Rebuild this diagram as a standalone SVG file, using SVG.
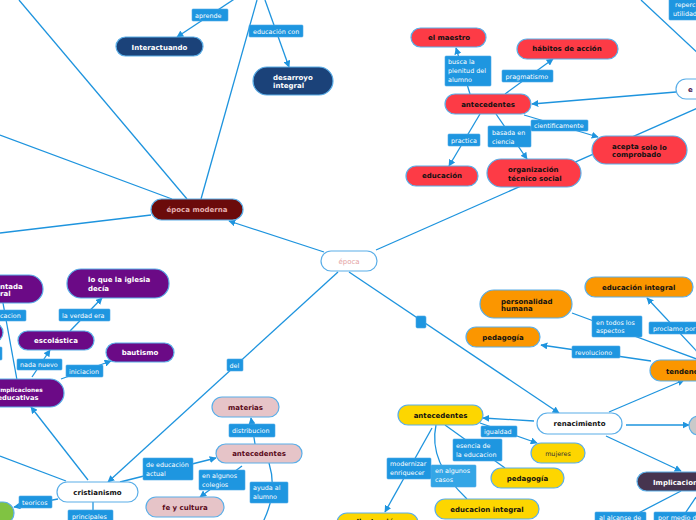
<svg xmlns="http://www.w3.org/2000/svg" width="696" height="520" viewBox="0 0 696 520">
<defs>
<marker id="ah" viewBox="0 0 10 10" refX="9" refY="5" markerWidth="7" markerHeight="7" markerUnits="userSpaceOnUse" orient="auto"><path d="M0,0 L10,5 L0,10 z" fill="#1e94de"/></marker>
<style>
.c{fill:none;stroke:#1e94de;stroke-width:1.3}
.a{marker-end:url(#ah)}
.lb{fill:#1e96e0;stroke:#4aa8e8;stroke-width:0.6}
.lt{font-family:"DejaVu Sans",Verdana,sans-serif;font-size:6.4px;fill:#ffffff}
.n{stroke:#5aaee8;stroke-width:1.2}
.t{font-family:"DejaVu Sans",Verdana,sans-serif;font-size:7px;font-weight:bold;text-anchor:middle}
.ts{font-family:"DejaVu Sans",Verdana,sans-serif;font-size:7px;font-weight:bold}
.blue{fill:#1b4279}.red{fill:#fd3b46}.dred{fill:#6b0b0b}.org{fill:#fb9600}.yel{fill:#fdd600}.pur{fill:#6b0a86}.pink{fill:#e6c4c8}.wh{fill:#ffffff}
.w{fill:#ffffff}.k{fill:#111111}.m{fill:#5a0a1a}
</style>
</defs>
<rect width="696" height="520" fill="#ffffff"/>
<g id="connectors">
<line class="c" x1="19" y1="0" x2="187" y2="199"/>
<line class="c" x1="0" y1="135" x2="172" y2="199"/>
<line class="c" x1="257" y1="0" x2="201" y2="199"/>
<line class="c a" x1="245" y1="-8" x2="177" y2="37"/>
<line class="c a" x1="265" y1="0" x2="289" y2="67"/>
<line class="c" x1="151" y1="215" x2="0" y2="233"/>
<line class="c a" x1="324" y1="252" x2="229" y2="221"/>
<line class="c" x1="376" y1="250" x2="700" y2="107"/>
<line class="c a" x1="338" y1="272" x2="108" y2="482"/>
<line class="c a" x1="349" y1="272" x2="559" y2="413"/>
<line class="c a" x1="470" y1="94" x2="456" y2="48"/>
<line class="c a" x1="505" y1="94" x2="553" y2="59"/>
<line class="c a" x1="480" y1="114" x2="449" y2="166"/>
<line class="c a" x1="496" y1="114" x2="527" y2="159"/>
<line class="c a" x1="524" y1="115" x2="598" y2="137"/>
<line class="c a" x1="676" y1="92" x2="532" y2="104"/>
<line class="c" x1="641" y1="0" x2="700" y2="55"/>
<line class="c a" x1="705" y1="360" x2="647" y2="298"/>
<line class="c" x1="705" y1="362" x2="572" y2="313"/>
<line class="c a" x1="651" y1="361" x2="541" y2="345"/>
<line class="c a" x1="609" y1="412" x2="684" y2="380"/>
<line class="c a" x1="626" y1="425" x2="689" y2="425"/>
<line class="c a" x1="606" y1="436" x2="681" y2="471"/>
<line class="c a" x1="534" y1="421" x2="483" y2="418"/>
<line class="c" x1="681" y1="491" x2="625" y2="520"/>
<line class="c" x1="696" y1="497" x2="684" y2="515"/>
<line class="c a" x1="480" y1="423" x2="537" y2="443"/>
<line class="c" x1="445" y1="425" x2="505" y2="468"/>
<path class="c" d="M436,425 Q428,462 467,499"/>
<line class="c a" x1="432" y1="428" x2="385" y2="512"/>
<line class="c a" x1="120" y1="482" x2="216" y2="458"/>
<line class="c a" x1="255" y1="444" x2="251" y2="418"/>
<line class="c a" x1="242" y1="466" x2="200" y2="497"/>
<path class="c" d="M269,463 Q278,492 263,522"/>
<line class="c a" x1="70" y1="331" x2="102" y2="298"/>
<line class="c a" x1="32" y1="377" x2="50" y2="350"/>
<line class="c a" x1="61" y1="379" x2="111" y2="361"/>
<line class="c" x1="3" y1="303" x2="17" y2="380"/>
<line class="c a" x1="88" y1="480" x2="31" y2="407"/>
<line class="c" x1="0" y1="456" x2="66" y2="481"/>
<line class="c a" x1="58" y1="499" x2="14" y2="507"/>
<line class="c" x1="93" y1="502" x2="93" y2="512"/>
</g>
<g id="labels">
<rect class="lb" x="192" y="9" width="36" height="12" rx="1"/><text class="lt" x="195" y="17.5">aprende</text>
<rect class="lb" x="249" y="25" width="54" height="12" rx="1"/><text class="lt" x="253" y="33.5">educación con</text>
<rect class="lb" x="445" y="56" width="46" height="30" rx="1"/><text class="lt" x="448" y="63.5">busca la</text><text class="lt" x="448" y="72.5">plenitud del</text><text class="lt" x="448" y="81.5">alumno</text>
<rect class="lb" x="502" y="70" width="51" height="12" rx="1"/><text class="lt" x="505.5" y="78.5">pragmatismo</text>
<rect class="lb" x="448" y="134" width="32" height="12" rx="1"/><text class="lt" x="451" y="142.5">practica</text>
<rect class="lb" x="488" y="126" width="43" height="21" rx="1"/><text class="lt" x="492" y="134.5">basada en</text><text class="lt" x="492" y="144">ciencia</text>
<rect class="lb" x="531" y="120" width="57" height="11" rx="1"/><text class="lt" x="534" y="128">cientificamente</text>
<rect class="lb" x="669" y="-2" width="35" height="22" rx="1"/><text class="lt" x="675" y="7">reperc</text><text class="lt" x="673" y="16">utilidad</text>
<rect class="lb" x="592" y="316" width="50" height="21" rx="1"/><text class="lt" x="596" y="324.5">en todos los</text><text class="lt" x="596" y="332.5">aspectos</text>
<rect class="lb" x="649" y="322" width="55" height="12" rx="1"/><text class="lt" x="653" y="330.5">proclamo por</text>
<rect class="lb" x="572" y="346" width="48" height="12" rx="1"/><text class="lt" x="575" y="354.5">revoluciono</text>
<rect class="lb" x="481" y="426" width="36" height="11" rx="1"/><text class="lt" x="484" y="434">igualdad</text>
<rect class="lb" x="453" y="439" width="49" height="22" rx="1"/><text class="lt" x="456" y="447.8">esencia de</text><text class="lt" x="456" y="456.5">la educacion</text>
<rect class="lb" x="431" y="465" width="45" height="22" rx="1" style="fill:#34a6e6"/><text class="lt" x="435" y="473">en algunos</text><text class="lt" x="435" y="481.8">casos</text>
<rect class="lb" x="387" y="458" width="44" height="21" rx="1"/><text class="lt" x="390" y="465.8">modernizar</text><text class="lt" x="390" y="474.8">enriquecer</text>
<rect class="lb" x="595" y="512" width="51" height="12" rx="1"/><text class="lt" x="599" y="520">al alcanse de</text>
<rect class="lb" x="654" y="512" width="50" height="12" rx="1"/><text class="lt" x="658" y="520">por medio de</text>
<rect class="lb" x="143" y="458" width="50" height="22" rx="1"/><text class="lt" x="146" y="466.5">de educación</text><text class="lt" x="146" y="475.8">actual</text>
<rect class="lb" x="229" y="424" width="46" height="13" rx="1"/><text class="lt" x="232" y="433">distribucion</text>
<rect class="lb" x="199" y="470" width="46" height="20" rx="1"/><text class="lt" x="202" y="477.8">en algunos</text><text class="lt" x="202" y="486.8">colegios</text>
<rect class="lb" x="250" y="482" width="38" height="21" rx="1"/><text class="lt" x="253" y="490">ayuda al</text><text class="lt" x="253" y="499">alumno</text>
<rect class="lb" x="227" y="359" width="16" height="12" rx="1"/><text class="lt" x="229.5" y="367.5">del</text>
<rect class="lb" x="59" y="309" width="51" height="12" rx="1"/><text class="lt" x="62" y="317.5">la verdad era</text>
<rect class="lb" x="-4" y="310" width="30" height="11" rx="1"/><text class="lt" x="0" y="318">cacion</text>
<rect class="lb" x="17" y="359" width="45" height="11" rx="1"/><text class="lt" x="20" y="367">nada nuevo</text>
<rect class="lb" x="66" y="365" width="37" height="12" rx="1"/><text class="lt" x="69" y="373.5">iniciacion</text>
<rect class="lb" x="19" y="496" width="33" height="12" rx="1"/><text class="lt" x="22" y="504.5">teoricos</text>
<rect class="lb" x="68" y="510" width="45" height="14" rx="1"/><text class="lt" x="72" y="518.5">principales</text>
<rect class="lb" x="416" y="316" width="10" height="12" rx="1.5"/>
<rect class="lb" x="-5" y="347" width="7" height="13" rx="1"/>
</g>
<g id="n-interactuando"><rect class="n blue" x="116" y="37" width="87" height="19" rx="9.5"/><text class="t w" x="159.5" y="49.5">Interactuando</text></g>
<g id="n-desarroyo"><rect class="n blue" x="253" y="67" width="80" height="28" rx="14"/><text class="ts w" x="273" y="80">desarroyo</text><text class="ts w" x="273" y="88">integral</text></g>
<g id="n-maestro"><rect class="n red" x="411" y="28" width="75" height="19" rx="9.5"/><text class="t k" x="449" y="40">el maestro</text></g>
<g id="n-habitos"><rect class="n red" x="517" y="39" width="101" height="20" rx="10"/><text class="t k" x="567" y="51">hábitos de acción</text></g>
<g id="n-antecedentes-red"><rect class="n red" x="445" y="94" width="86" height="20" rx="10"/><text class="t k" x="488" y="106.8">antecedentes</text></g>
<g id="n-educacion-red"><rect class="n red" x="406" y="166" width="72" height="20" rx="10"/><text class="t k" x="442" y="177.8">educación</text></g>
<g id="n-organizacion"><rect class="n red" x="487" y="159" width="94" height="28" rx="14"/><text class="ts k" x="508" y="171.5">organización</text><text class="ts k" x="508" y="180.5">técnico social</text></g>
<g id="n-acepta"><rect class="n red" x="592" y="136" width="95" height="28" rx="14"/><text class="ts k" x="612" y="148.5">acepta</text><text class="ts k" x="641" y="149.5">solo lo</text><text class="ts k" x="612" y="157">comprobado</text></g>
<g id="n-e"><rect class="n wh" x="676" y="79" width="40" height="20" rx="10"/><text class="ts" x="688" y="91.5" fill="#4b1a55">e</text></g>
<g id="n-epoca-moderna"><rect class="n dred" x="151" y="199" width="92" height="21" rx="10.5"/><text class="t" x="197" y="212" fill="#e6b0b0">época moderna</text></g>
<g id="n-epoca"><rect class="n wh" x="321" y="251" width="56" height="20" rx="10"/><text class="t" x="349" y="263.8" fill="#e4a2a2" style="font-weight:normal">época</text></g>
<g id="n-educacion-integral-o"><rect class="n org" x="585" y="277" width="108" height="20" rx="10"/><text class="ts k" x="602" y="290">educación  integral</text></g>
<g id="n-personalidad"><rect class="n org" x="480" y="290" width="92" height="28" rx="14"/><text class="ts k" x="501" y="303.5">personalidad</text><text class="ts k" x="501" y="310.5">humana</text></g>
<g id="n-pedagogia-o"><rect class="n org" x="466" y="327" width="74" height="20" rx="10"/><text class="t k" x="503" y="339.5">pedagogía</text></g>
<g id="n-tendencias"><rect class="n org" x="650" y="360" width="60" height="21" rx="10.5"/><text class="ts k" x="666" y="373.5">tendencias</text></g>
<g id="n-renacimiento"><rect class="n wh" x="537" y="413" width="85" height="21" rx="10.5"/><text class="t k" x="579.5" y="426">renacimiento</text></g>
<g id="n-gray"><rect class="n" x="689" y="416" width="20" height="19" rx="9.5" fill="#c9c9c9"/></g>
<g id="n-implicaciones-r"><rect class="n" x="637" y="472" width="70" height="19" rx="9.5" fill="#46344f"/><text class="ts w" x="653" y="484.5">Implicaciones</text></g>
<g id="n-antecedentes-y"><rect class="n yel" x="398" y="405" width="85" height="20" rx="10"/><text class="t k" x="440.5" y="418">antecedentes</text></g>
<g id="n-mujeres"><rect class="n yel" x="531" y="443" width="54" height="20" rx="10"/><text class="t" x="558" y="455.5" fill="#333" style="font-weight:normal;font-size:6.4px">mujeres</text></g>
<g id="n-pedagogia-y"><rect class="n yel" x="491" y="468" width="73" height="20" rx="10"/><text class="t k" x="527.5" y="480.5">pedagogía</text></g>
<g id="n-educacion-integral-y"><rect class="n yel" x="435" y="499" width="104" height="20" rx="10"/><text class="t k" x="487" y="511.5">educacion integral</text></g>
<g id="n-bottom-y"><rect class="n yel" x="337" y="513" width="81" height="20" rx="10"/><text class="t k" x="377.5" y="523.5">Ilustración</text></g>
<g id="n-materias"><rect class="n pink" x="212" y="397" width="67" height="20" rx="10"/><text class="t m" x="245.5" y="409.5">materias</text></g>
<g id="n-antecedentes-p"><rect class="n pink" x="216" y="444" width="86" height="19" rx="9.5"/><text class="t m" x="259" y="456">antecedentes</text></g>
<g id="n-fe"><rect class="n pink" x="146" y="497" width="78" height="20" rx="10"/><text class="t m" x="185" y="509.5">fe y cultura</text></g>
<g id="n-cristianismo"><rect class="n wh" x="57" y="482" width="81" height="20" rx="10"/><text class="t k" x="97.5" y="494.5">cristianismo</text></g>
<g id="n-ntada"><rect class="n pur" x="-30" y="275" width="73" height="28" rx="14"/><text class="ts w" x="0" y="288.5">ntada</text><text class="ts w" x="0" y="295.5">ral</text></g>
<g id="n-loque"><rect class="n pur" x="67" y="269" width="102" height="29" rx="14"/><text class="ts w" x="88" y="281.5">lo que la iglesia</text><text class="ts w" x="88" y="290.5">decía</text></g>
<g id="n-escolastica"><rect class="n pur" x="18" y="331" width="76" height="19" rx="9.5"/><text class="t w" x="56" y="343">escolástica</text></g>
<g id="n-bautismo"><rect class="n pur" x="106" y="343" width="68" height="19" rx="9.5"/><text class="t w" x="140" y="355">bautismo</text></g>
<g id="n-implicaciones-p"><rect class="n pur" x="-30" y="379" width="94" height="28" rx="14"/><text class="ts w" x="-2" y="391.5" style="font-size:5.8px">Implicaciones</text><text class="ts w" x="-2.5" y="399.5" style="font-size:6.7px">educativas</text></g>
<g id="n-sliver"><rect class="n pur" x="-20" y="323" width="23" height="19" rx="9.5"/></g>
<g id="n-green"><rect class="n" x="-10" y="502" width="24" height="22" rx="11" fill="#80c342"/></g>
</svg>
